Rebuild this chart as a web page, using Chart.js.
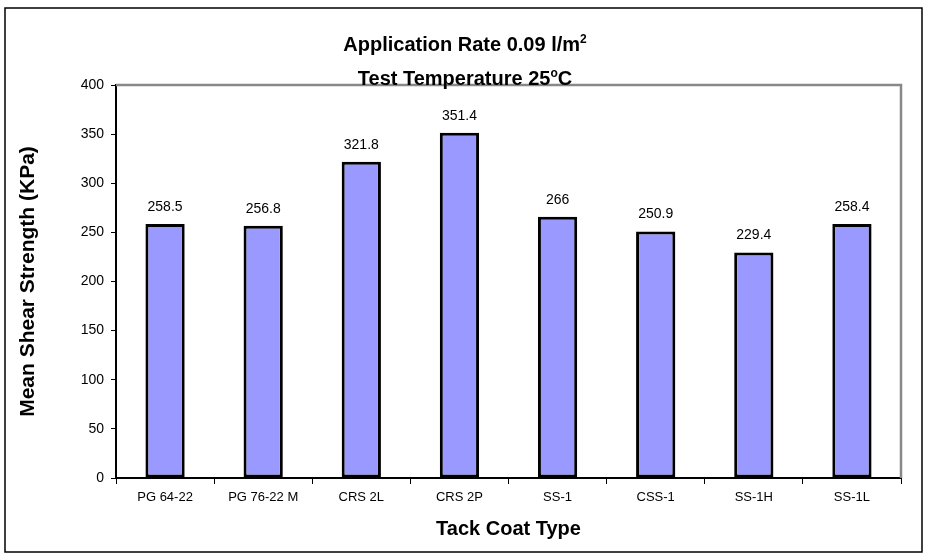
<!DOCTYPE html>
<html lang="en">
<head>
  <meta charset="UTF-8">
  <title>Mean Shear Strength - Tack Coat Type</title>
  <script src="https://cdn.jsdelivr.net/npm/chart.js"></script>
  <style>
    body { margin: 0; background: #fff; }
    #wrap { width: 930px; height: 560px; }
  </style>
</head>
<body>
  <div id="wrap"><canvas id="shearChart" width="930" height="560"></canvas></div>
  <script>
    const categories = ['PG 64-22', 'PG 76-22 M', 'CRS 2L', 'CRS 2P', 'SS-1', 'CSS-1', 'SS-1H', 'SS-1L'];
    const shearStrength = [258.5, 256.8, 321.8, 351.4, 266, 250.9, 229.4, 258.4];
    const valueLabels = ['258.5', '256.8', '321.8', '351.4', '266', '250.9', '229.4', '258.4'];
    const yMin = 0, yMax = 400, yStep = 50;

    const FONT = 'Arial, "Liberation Sans", sans-serif';

    // text with a small raised part, e.g. l/m + 2
    function drawSup(ctx, parts, cx, cy, size) {
      const big = 'bold ' + size + 'px ' + FONT;
      const small = 'bold ' + Math.round(size * 0.62) + 'px ' + FONT;
      let total = 0;
      parts.forEach(p => { ctx.font = p.sup ? small : big; total += ctx.measureText(p.t).width; });
      let x = cx - total / 2;
      ctx.textBaseline = 'alphabetic';
      ctx.textAlign = 'left';
      parts.forEach(p => {
        ctx.font = p.sup ? small : big;
        ctx.fillText(p.t, x, p.sup ? cy - size * 0.42 : cy);
        x += ctx.measureText(p.t).width;
      });
    }

    const decorPlugin = {
      id: 'decor',
      beforeDraw(chart) {
        const ctx = chart.ctx;
        ctx.save();
        ctx.strokeStyle = '#000';
        ctx.lineWidth = 1.5;
        ctx.strokeRect(5, 8, chart.width - 13, chart.height - 16);
        ctx.restore();
      },
      afterDatasetsDraw(chart) {
        const ctx = chart.ctx;
        const a = chart.chartArea;
        ctx.save();
        // grey plot frame, top and right
        ctx.strokeStyle = '#888';
        ctx.lineWidth = 2.5;
        ctx.beginPath();
        ctx.moveTo(a.left, a.top);
        ctx.lineTo(a.right, a.top);
        ctx.lineTo(a.right, a.bottom);
        ctx.stroke();

        // value labels
        ctx.fillStyle = '#000';
        ctx.font = '14px ' + FONT;
        ctx.textAlign = 'center';
        ctx.textBaseline = 'middle';
        chart.getDatasetMeta(0).data.forEach((bar, i) => {
          ctx.fillText(valueLabels[i], bar.x, bar.y - 17);
        });

        // title
        const cx = chart.width / 2;
        drawSup(ctx, [{ t: 'Application Rate 0.09 l/m' }, { t: '2', sup: true }], cx, a.top - 34, 20);
        drawSup(ctx, [{ t: 'Test Temperature 25' }, { t: 'o', sup: true }, { t: 'C' }], cx, a.top, 20);
        ctx.restore();
      }
    };

    new Chart(document.getElementById('shearChart'), {
      type: 'bar',
      data: {
        labels: categories,
        datasets: [{
          data: shearStrength,
          backgroundColor: '#9999FF',
          borderColor: '#000',
          borderWidth: 3,
          borderSkipped: false,
          barPercentage: 0.4,
          categoryPercentage: 1.0
        }]
      },
      options: {
        responsive: false,
        animation: false,
        layout: { padding: { left: 10, right: 29, top: 85, bottom: 12 } },
        plugins: { legend: { display: false }, tooltip: { enabled: false } },
        scales: {
          x: {
            afterFit: s => { s.height = 70; },
            grid: { drawOnChartArea: false, drawTicks: true, tickLength: 6, color: '#000', offset: true },
            border: { display: true, color: '#000', width: 2 },
            ticks: { color: '#000', font: { family: FONT, size: 13 }, padding: 6, maxRotation: 0 },
            title: { display: true, text: 'Tack Coat Type', color: '#000',
                     font: { family: FONT, size: 20, weight: 'bold' }, padding: { top: 0, bottom: 7 } }
          },
          y: {
            min: yMin, max: yMax,
            afterFit: s => { s.width = 106; },
            grid: { drawOnChartArea: false, drawTicks: true, tickLength: 5, color: '#000' },
            border: { display: true, color: '#000', width: 2 },
            ticks: { stepSize: yStep, color: '#000', font: { family: FONT, size: 14 }, padding: 7 },
            title: { display: true, text: 'Mean Shear Strength (KPa)', color: '#000',
                     font: { family: FONT, size: 21, weight: 'bold' }, padding: { top: 6, bottom: 0 } }
          }
        }
      },
      plugins: [decorPlugin]
    });
  </script>
</body>
</html>
